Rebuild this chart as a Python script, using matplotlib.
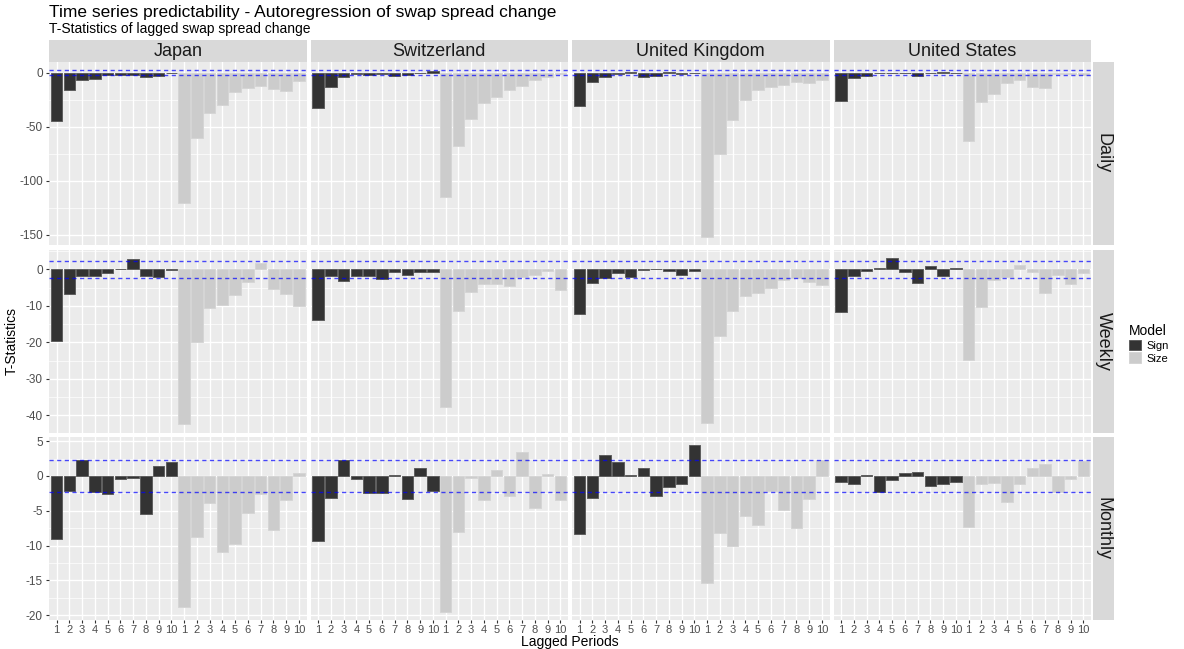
import numpy as np
import matplotlib.pyplot as plt

plt.rcParams["font.family"] = ["Liberation Sans", "DejaVu Sans"]

countries = ["Japan", "Switzerland", "United Kingdom", "United States"]
frequencies = ["Daily", "Weekly", "Monthly"]
lags = list(range(1, 11))
crit = 2.33  # critical t-value, drawn as dashed lines

# t-statistics per country (Japan, Switzerland, UK, US), lags 1..10
daily_sign = [
    [-45, -15.5, -6.5, -5.6, -2.2, -1.9, -1.9, -3.7, -3.1, -0.6],
    [-33, -13, -4.3, -1.0, -1.6, -0.8, -2.5, -2.2, -0.3, 1.9],
    [-31, -8.7, -4.3, -0.9, 0.9, -3.7, -2.5, 1.0, -1.2, -0.6],
    [-26, -5, -3.1, -0.6, 0.3, -0.6, -3.4, 0.2, 1.0, -0.5],
]
daily_size = [
    [-120.5, -60, -37, -29.5, -17.4, -13.7, -12.1, -14.6, -16.5, -8],
    [-115, -68, -43, -28, -22.4, -15.8, -12.1, -7.1, -4.3, -0.8],
    [-152, -75, -43.5, -25, -16, -13, -11.2, -8.7, -9.3, -6.5],
    [-63, -27.3, -20, -9.3, -6.2, -12.7, -14.3, -1, -1.5, -2],
]
weekly_sign = [
    [-19.7, -6.7, -1.9, -1.9, -1.0, 0.2, 2.8, -1.7, -2.1, -0.2],
    [-13.8, -1.9, -3.1, -1.8, -1.8, -2.6, -0.6, -1.4, -0.6, -0.6],
    [-12.2, -3.7, -2.3, -0.9, -2.0, -0.2, 0.1, -0.5, -1.5, -0.5],
    [-11.7, -1.8, -0.5, 0.3, 3.2, -0.8, -3.7, 0.9, -1.8, 0.5],
]
weekly_size = [
    [-42.4, -20, -10.6, -9.8, -7.1, -3.3, 1.7, -5.4, -6.6, -9.9],
    [-37.6, -11.5, -6.1, -4.1, -4.1, -4.6, -2.0, -1.4, -0.5, -5.5],
    [-42, -18.3, -11.5, -7.2, -6.5, -5.0, -2.8, -2.3, -3.5, -4.2],
    [-24.7, -10.2, -3.0, -2.0, 1.1, -0.7, -6.5, -1.6, -4.0, -0.9],
]
monthly_sign = [
    [-9.1, -2.2, 2.3, -2.3, -2.6, -0.5, -0.3, -5.5, 1.5, 2.0],
    [-9.4, -3.2, 2.3, -0.4, -2.5, -2.5, 0.1, -3.3, 1.2, -2.2],
    [-8.4, -3.2, 3.0, 2.0, 0.1, 1.15, -2.9, -1.6, -1.1, 4.4],
    [-0.9, -1.1, 0.2, -2.3, -0.6, 0.4, 0.5, -1.5, -1.1, -0.8],
]
monthly_size = [
    [-18.8, -8.75, -3.9, -10.9, -9.8, -5.3, -2.6, -7.7, -3.4, 0.4],
    [-19.5, -8.0, -0.35, -3.4, 0.8, -2.9, 3.4, -4.6, 0.3, -3.4],
    [-15.4, -8.2, -10.0, -5.7, -7.1, -2.2, -4.9, -7.5, -3.3, 2.3],
    [-7.4, -1.1, -1.0, -3.8, -1.1, 1.1, 1.7, -2.3, -0.4, 2.1],
]
sign_rows = [daily_sign, weekly_sign, monthly_sign]
size_rows = [daily_size, weekly_size, monthly_size]
row_breaks = [50, 10, 5]

W, H = 1184, 649
fig = plt.figure(figsize=(W / 100, H / 100), dpi=100)


def box(x0, y0, w, h):
    return [x0 / W, 1 - (y0 + h) / H, w / W, h / H]


left, pw, gap = 49, 257.5, 4
top, ph, vgap = 62, 183, 4.5
x = np.arange(1, 21)

for r, freq in enumerate(frequencies):
    allv = np.concatenate([np.ravel(sign_rows[r]), np.ravel(size_rows[r]), [crit, -crit]])
    lo, hi = allv.min(), allv.max()
    pad = 0.05 * (hi - lo)
    ylo, yhi = lo - pad, hi + pad
    step = row_breaks[r]
    major = np.arange(np.ceil(ylo / step) * step, yhi + 1e-9, step)
    minor = np.arange(np.ceil(ylo / (step / 2)) * (step / 2), yhi + 1e-9, step / 2)
    minor = [m for m in minor if m not in major]

    for c, country in enumerate(countries):
        ax = fig.add_axes(box(left + c * (pw + gap), top + r * (ph + vgap), pw, ph))
        ax.set_facecolor("#EBEBEB")
        ax.bar(x[:10], sign_rows[r][c], width=0.9, color="#333333",
               edgecolor="#5E5E5E", linewidth=0.7, zorder=3, label="Sign")
        ax.bar(x[10:], size_rows[r][c], width=0.9, color="#CCCCCC",
               edgecolor="#D5D5D5", linewidth=0.7, zorder=3, label="Size")
        for v in (crit, -crit):
            ax.axhline(v, color="#0000FF", alpha=0.7, linestyle=(0, (3, 2.5)),
                       linewidth=1.0, zorder=4)
        ax.set_xlim(0.4, 20.6)
        ax.set_ylim(ylo, yhi)
        ax.set_yticks(major)
        ax.set_yticks(minor, minor=True)
        ax.set_yticklabels([f"{v:g}" for v in major])
        ax.set_xticks(x)
        ax.set_xticklabels([str(v) for v in lags + lags])
        ax.grid(which="major", color="white", linewidth=1.0, zorder=0)
        ax.grid(which="minor", axis="y", color="white", linewidth=0.5, zorder=0)
        ax.set_axisbelow(True)
        for s in ax.spines.values():
            s.set_visible(False)
        ax.tick_params(which="major", length=2.5, color="#333333", labelsize=8.5,
                       labelcolor="#4D4D4D", pad=2)
        ax.tick_params(axis="x", labelsize=8, pad=1)
        ax.tick_params(which="minor", length=0)
        if c > 0:
            ax.tick_params(axis="y", left=False, labelleft=False)
        if r < 2:
            ax.tick_params(axis="x", bottom=False, labelbottom=False)

        if r == 0:
            sax = fig.add_axes(box(left + c * (pw + gap), 40, pw, 22))
            sax.set_facecolor("#D9D9D9")
            sax.set_xticks([])
            sax.set_yticks([])
            for s in sax.spines.values():
                s.set_visible(False)
            sax.text(0.5, 0.47, country, ha="center", va="center",
                     fontsize=13, color="#1A1A1A", transform=sax.transAxes)
        if c == 3:
            handles, labels = ax.get_legend_handles_labels()

    rax = fig.add_axes(box(left + 4 * pw + 3 * gap + 2, top + r * (ph + vgap), 21, ph))
    rax.set_facecolor("#D9D9D9")
    rax.set_xticks([])
    rax.set_yticks([])
    for s in rax.spines.values():
        s.set_visible(False)
    rax.text(0.5, 0.5, freq, ha="center", va="center", rotation=-90,
             fontsize=13, color="#1A1A1A", transform=rax.transAxes)

fig.text(49 / W, 1 - 12 / H, "Time series predictability - Autoregression of swap spread change",
         fontsize=12.5, va="center", ha="left")
fig.text(49 / W, 1 - 29 / H, "T-Statistics of lagged swap spread change",
         fontsize=10, va="center", ha="left")
fig.text(12 / W, 1 - 341 / H, "T-Statistics", rotation=90, fontsize=10,
         va="center", ha="center")
fig.text(570 / W, 1 - 642 / H, "Lagged Periods", fontsize=10,
         va="center", ha="center")

leg = fig.legend(handles, labels, loc="upper left",
                 bbox_to_anchor=(1119 / W, 1 - 314 / H), frameon=False,
                 title="Model", fontsize=8, title_fontsize=10,
                 handlelength=1.1, handleheight=1.1, labelspacing=0.15,
                 handletextpad=0.5, alignment="left")

fig.savefig("out.png", dpi=100)
